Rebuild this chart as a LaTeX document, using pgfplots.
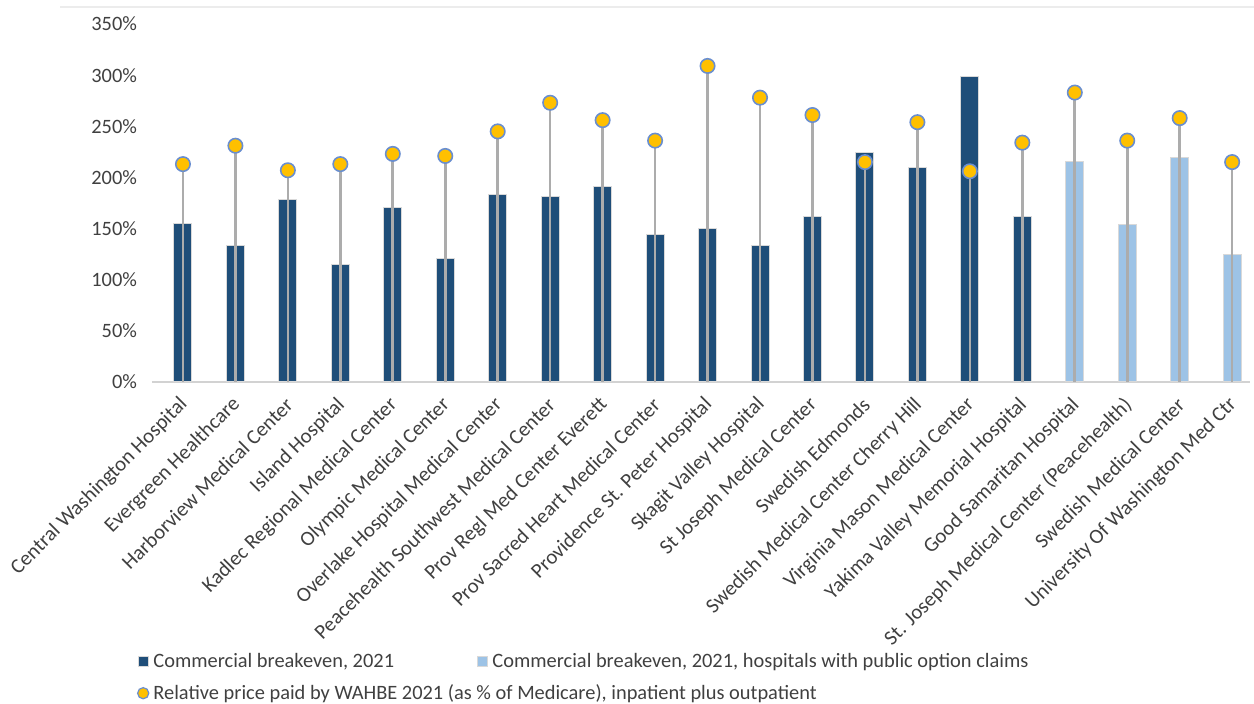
\documentclass[border=0pt]{standalone}
\usepackage{pgfplots}
\pgfplotsset{compat=1.18}
\usepackage{fontspec}
\setmainfont{Carlito}
\definecolor{darkbar}{HTML}{1F4E79}
\definecolor{lightbar}{HTML}{9DC3E6}
\definecolor{dotfill}{HTML}{FFC000}
\definecolor{dotedge}{HTML}{4472C4}
\definecolor{txt}{HTML}{404040}
\pgfplotsset{
  sqlegend/.style={legend image code/.code={\draw[##1] (0pt,-2.6pt) rectangle (5.2pt,2.6pt);}},
  dotlegend/.style={legend image code/.code={\draw[fill=dotfill, draw=dotedge!80, line width=0.6pt] (2.6pt,0pt) circle (2.8pt);}},
}
\begin{document}
\begin{tikzpicture}
\useasboundingbox (-76pt,-161pt) rectangle (551pt,191pt);
\draw[gray!15, line width=0.8pt] (-46pt,187.5pt) -- (551pt,187.5pt);
\begin{axis}[
  at={(0pt,0pt)}, anchor=south west,
  scale only axis, width=549pt, height=179pt,
  xmin=-0.59, xmax=20.34, ymin=0, ymax=350,
  axis x line*=bottom, axis y line*=left,
  x axis line style={draw=gray!35, line width=1pt},
  y axis line style={draw=none},
  ytick={0,50,...,350},
  yticklabel={\pgfmathprintnumber{\tick}\%},
  /pgf/number format/assume math mode=true,
  yticklabel style={font=\fontsize{10.2}{12}\selectfont, text=txt, xshift=-4pt},
  xtick={0,...,20},
  xticklabels={Central Washington Hospital, Evergreen Healthcare, Harborview Medical Center, Island Hospital, Kadlec Regional Medical Center, Olympic Medical Center, Overlake Hospital Medical Center, Peacehealth Southwest Medical Center, Prov Regl Med Center Everett, Prov Sacred Heart Medical Center, Providence St. Peter Hospital, Skagit Valley Hospital, St Joseph Medical Center, Swedish Edmonds, Swedish Medical Center Cherry Hill, Virginia Mason Medical Center, Yakima Valley Memorial Hospital, Good Samaritan Hospital, St. Joseph Medical Center (Peacehealth), Swedish Medical Center, University Of Washington Med Ctr},
  xticklabel style={font=\fontsize{10.4}{12}\selectfont, text=txt, xshift=1.5pt, yshift=-9pt, rotate=45, anchor=east, inner sep=1pt},
  major tick length=0pt,
  clip=false,
  legend style={draw=none, fill=none, at={(rel axis cs:-0.014,-0.745)}, anchor=north west,
    font=\fontsize{10.2}{12}\selectfont, text=txt, row sep=3pt,
    /tikz/every even column/.append style={column sep=39.5pt},
    inner sep=0pt},
  legend columns=2,
  legend cell align=left,
]
\addplot[ybar, bar width=9pt, bar shift=0pt, fill=darkbar, draw=gray!30, line width=0.5pt, sqlegend]
  coordinates {(0,155) (1,133) (2,178) (3,115) (4,171) (5,121) (6,183) (7,181) (8,191) (9,144) (10,150) (11,133) (12,162) (13,224) (14,210) (15,299) (16,162)};
\addlegendentry{Commercial breakeven, 2021}
\addplot[ybar, bar width=9pt, bar shift=0pt, fill=lightbar, draw=gray!30, line width=0.5pt, sqlegend]
  coordinates {(17,216) (18,154) (19,219) (20,125)};
\addlegendentry{Commercial breakeven, 2021, hospitals with public option claims}
\addplot[ycomb, draw=gray!65, line width=1.3pt, mark=*, mark size=3.6pt,
  mark options={fill=dotfill, draw=dotedge!80, line width=0.8pt}, dotlegend]
  coordinates {(0,213) (1,231) (2,207) (3,213) (4,223) (5,221) (6,245) (7,273) (8,256) (9,236) (10,309) (11,278) (12,261) (13,215) (14,254) (15,206) (16,234) (17,283) (18,236) (19,258) (20,215)};
\addlegendentry{\makebox[0pt][l]{Relative price paid by WAHBE 2021 (as \% of Medicare), inpatient plus outpatient}}
\end{axis}
\end{tikzpicture}
\end{document}
